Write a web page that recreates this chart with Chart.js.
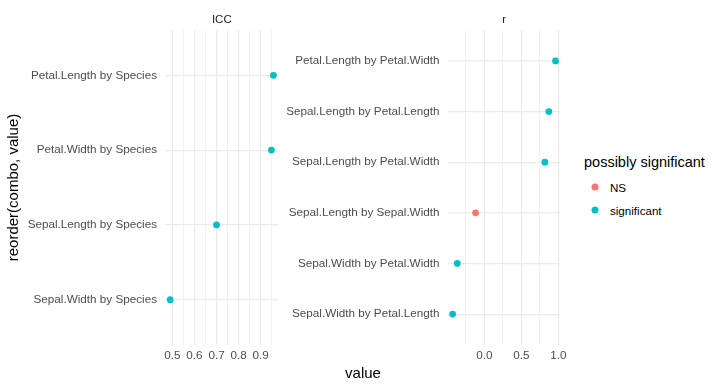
<!DOCTYPE html>
<html>
<head>
<meta charset="utf-8">
<script src="https://cdn.jsdelivr.net/npm/chart.js@4.4.1/dist/chart.umd.min.js"></script>
<style>
  body { margin: 0; background: #fff; width: 721px; height: 385px; position: relative; overflow: hidden;
         font-family: "Liberation Sans", Arial, sans-serif; }
  canvas { position: absolute; top: 0; }
  #c1 { left: 0; }
  #c2 { left: 282px; }
  .lbl { position: absolute; white-space: nowrap; }
  #xtitle { left: 363px; top: 372px; transform: translate(-50%, -50%); font-size: 15px; color: #000; }
  #legTitle { left: 584px; top: 162px; transform: translateY(-50%); font-size: 14.5px; color: #000; }
  .dot { position: absolute; width: 7px; height: 7px; border-radius: 50%; transform: translate(-50%, -50%); }
  .legTxt { position: absolute; left: 610px; transform: translateY(-50%); font-size: 11.6px; color: #000; }
</style>
</head>
<body>
<canvas id="c1" width="282" height="385"></canvas>
<canvas id="c2" width="292" height="385"></canvas>
<div class="lbl" id="xtitle">value</div>
<div class="lbl" id="legTitle">possibly significant</div>
<div class="dot" style="left:595px;top:187px;background:#F8766D"></div>
<div class="legTxt" style="top:187px">NS</div>
<div class="dot" style="left:595px;top:210px;background:#00BFC4"></div>
<div class="legTxt" style="top:210px">significant</div>

<script>
// facet "ICC" (top to bottom)
const iccCombos = ["Petal.Length by Species", "Petal.Width by Species", "Sepal.Length by Species", "Sepal.Width by Species"];
const iccValues = [0.958, 0.949, 0.70, 0.49];
const iccSignif = ["significant", "significant", "significant", "significant"];
const iccMajor = [0.5, 0.6, 0.7, 0.8, 0.9];
const iccMinor = [0.55, 0.65, 0.75, 0.85, 0.95];

// facet "r" (top to bottom)
const rCombos = ["Petal.Length by Petal.Width", "Sepal.Length by Petal.Length", "Sepal.Length by Petal.Width",
                 "Sepal.Length by Sepal.Width", "Sepal.Width by Petal.Width", "Sepal.Width by Petal.Length"];
const rValues = [0.963, 0.872, 0.818, -0.118, -0.366, -0.428];
const rSignif = ["significant", "significant", "significant", "NS", "significant", "significant"];
const rMajor = [-0.5, 0.0, 0.5, 1.0];
const rMinor = [-0.25, 0.25, 0.75];

const colors = { NS: "#F8766D", significant: "#00BFC4" };
const font = '"Liberation Sans", Arial, sans-serif';
const gridColor = "#ebebeb";

function makePanel(canvasId, title, combos, values, signif, major, minor, yTitle, yWidth, padRight) {
  const n = combos.length;
  const lo = Math.min(...values), hi = Math.max(...values);
  const pad = (hi - lo) * 0.05;
  const xmin = lo - pad, xmax = hi + pad;
  const isMajor = v => major.some(m => Math.abs(m - v) < 1e-9);
  const gridVals = major.concat(minor).filter(v => v >= xmin && v <= xmax).sort((a, b) => a - b);

  const points = values.map((v, i) => ({ x: v, y: n - 1 - i }));

  return new Chart(document.getElementById(canvasId), {
    type: "scatter",
    data: {
      datasets: [{
        data: points,
        pointRadius: 3.4,
        pointHoverRadius: 3.4,
        pointBorderWidth: 0,
        pointBackgroundColor: signif.map(s => colors[s])
      }]
    },
    options: {
      responsive: false,
      animation: false,
      events: [],
      layout: { padding: { left: 0, right: padRight, top: 0, bottom: 0 } },
      plugins: {
        legend: { display: false },
        tooltip: { enabled: false },
        title: {
          display: true,
          text: title,
          fullSize: false,
          color: "#1a1a1a",
          font: { family: font, size: 11.5, weight: "normal" },
          padding: { top: 13.1, bottom: 3.6 }
        }
      },
      scales: {
        x: {
          type: "linear",
          min: xmin,
          max: xmax,
          afterBuildTicks: s => { s.ticks = gridVals.map(v => ({ value: v })); },
          afterFit: s => { s.height = 40.5; s.paddingLeft = 0; s.paddingRight = 0; },
          border: { display: false },
          grid: {
            drawTicks: false,
            color: gridColor,
            lineWidth: ctx => (ctx.tick && isMajor(ctx.tick.value)) ? 1.2 : 0.7
          },
          ticks: {
            autoSkip: false,
            maxRotation: 0,
            padding: 4.5,
            color: "#4d4d4d",
            font: { family: font, size: 11.7 },
            callback: v => isMajor(v) ? v.toFixed(1) : ""
          }
        },
        y: {
          type: "linear",
          min: -0.6,
          max: n - 0.4,
          afterBuildTicks: s => { s.ticks = combos.map((c, i) => ({ value: i })); },
          afterFit: s => { s.width = yWidth; s.paddingTop = 0; s.paddingBottom = 0; },
          border: { display: false },
          grid: { drawTicks: false, color: gridColor, lineWidth: 1.2 },
          ticks: {
            autoSkip: false,
            padding: 8,
            color: "#4d4d4d",
            font: { family: font, size: 11.7 },
            callback: v => combos[n - 1 - v]
          },
          title: {
            display: !!yTitle,
            text: yTitle || "",
            color: "#000",
            font: { family: font, size: 15 },
            padding: { top: 4.5, bottom: 0 }
          }
        }
      }
    }
  });
}

makePanel("c1", "ICC", iccCombos, iccValues, iccSignif, iccMajor, iccMinor, "reorder(combo, value)", 165, 2.8);
makePanel("c2", "r", rCombos, rValues, rSignif, rMajor, rMinor, null, 165.5, 13.3);
</script>
</body>
</html>
